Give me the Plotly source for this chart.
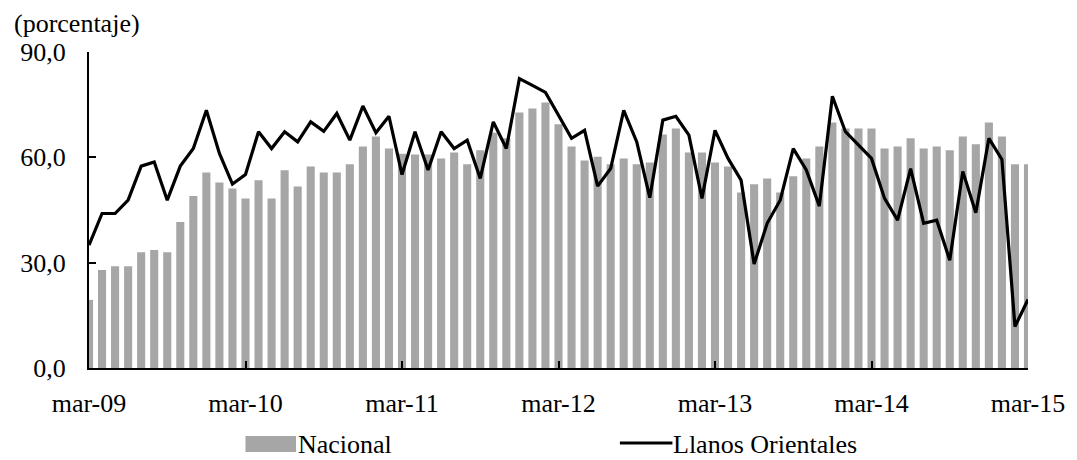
import plotly.graph_objects as go

# meses de mar-09 a mar-15
MESES_ES = ["ene", "feb", "mar", "abr", "may", "jun",
            "jul", "ago", "sep", "oct", "nov", "dic"]
meses = []
for anio in range(9, 16):
    for m, nombre in enumerate(MESES_ES):
        if (anio == 9 and m < 2) or (anio == 15 and m > 2):
            continue
        meses.append(f"{nombre}-{anio:02d}")

nacional = [
    19.4, 27.9, 29.0, 29.0, 33.0, 33.6, 33.0, 41.6, 49.0, 55.7,
    52.8, 51.1, 48.3, 53.5, 48.3, 56.3, 51.7, 57.4, 55.7, 55.7,
    58.0, 63.1, 65.9, 62.5, 61.0, 60.8, 60.8, 59.7, 61.4, 58.0,
    62.0, 67.0, 65.4, 72.8, 73.9, 75.6, 69.4, 63.1, 59.1, 60.2,
    58.0, 59.7, 58.0, 58.5, 66.5, 68.2, 61.4, 61.4, 58.5, 57.4,
    50.0, 52.3, 54.0, 50.0, 54.6, 59.7, 63.1, 69.9, 68.2, 68.2,
    68.2, 62.5, 63.1, 65.4, 62.5, 63.1, 62.0, 65.9, 63.7, 69.9,
    65.9, 58.0, 58.0,
]

llanos = [
    35.0, 44.0, 44.0, 47.8, 57.5, 58.7, 47.8, 57.5, 62.5, 73.4,
    61.1, 52.4, 55.1, 67.3, 62.5, 67.3, 64.4, 70.1, 67.4, 72.5,
    64.9, 74.6, 67.0, 71.7, 55.1, 67.3, 56.4, 67.3, 62.5, 64.9,
    54.0, 70.1, 62.5, 82.4, 80.5, 78.5, 72.0, 65.4, 67.7, 51.8,
    56.8, 73.4, 64.4, 48.5, 70.6, 71.7, 66.3, 48.3, 67.7, 59.7,
    53.5, 29.6, 41.2, 47.8, 62.5, 56.4, 46.1, 77.4, 67.3, 63.5,
    59.7, 48.3, 42.1, 56.8, 41.2, 42.1, 30.7, 56.0, 44.2, 65.4,
    59.4, 11.8, 19.5,
]

x_ticks = ["mar-09", "mar-10", "mar-11", "mar-12", "mar-13", "mar-14", "mar-15"]
y_ticks = [0, 30, 60, 90]
y_labels = ["0,0", "30,0", "60,0", "90,0"]

GRIS = "#a6a6a6"
FUENTE = "Liberation Serif, Times New Roman, serif"
TAM = 26
texto = dict(family=FUENTE, size=TAM, color="black")

fig = go.Figure()
fig.add_trace(go.Bar(x=meses, y=nacional, name="Nacional",
                     marker=dict(color=GRIS, line=dict(width=0))))
fig.add_trace(go.Scatter(x=meses, y=llanos, name="Llanos Orientales",
                         mode="lines", line=dict(color="black", width=3.2)))

# la pagina deja 8 px de margen en el body
OFF = 8
W, H = 1077 - OFF, 460 - OFF
L, R, T, B = 88 - OFF, 41, 52 - OFF, 92
pw, ph = W - L - R, H - T - B


def px_x(p):
    return (p - OFF - L) / pw


def px_y(p):
    return (H - B - (p - OFF)) / ph


fig.update_layout(
    width=W, height=H,
    margin=dict(l=L, r=R, t=T, b=B),
    paper_bgcolor="white", plot_bgcolor="white",
    bargap=0.38,
    showlegend=False,
    font=texto,
)

fig.update_xaxes(
    type="category", range=[0, len(meses) - 1],
    tickvals=x_ticks, ticktext=x_ticks, tickfont=texto,
    ticks="inside", ticklen=7, tickwidth=2, tickcolor="black",
    showline=True, linecolor="black", linewidth=2,
    showgrid=False, zeroline=False, ticklabelstandoff=11,
)
fig.update_yaxes(
    range=[0, 90], tickvals=y_ticks, ticktext=y_labels, tickfont=texto,
    ticks="inside", ticklen=7, tickwidth=2, tickcolor="black",
    showline=True, linecolor="black", linewidth=2,
    showgrid=False, zeroline=False, ticklabelstandoff=16,
)

# leyenda dibujada a mano
fig.add_shape(type="rect", xref="paper", yref="paper",
              x0=px_x(246), x1=px_x(297), y0=px_y(452), y1=px_y(436),
              fillcolor=GRIS, line=dict(width=0))
fig.add_shape(type="line", xref="paper", yref="paper",
              x0=px_x(624), x1=px_x(677), y0=px_y(443), y1=px_y(443),
              line=dict(color="black", width=3.2))
for nombre, x_txt in [("Nacional", 298), ("Llanos Orientales", 677)]:
    fig.add_annotation(text=nombre, xref="paper", yref="paper",
                       x=px_x(x_txt), y=px_y(444), xanchor="left",
                       yanchor="middle", borderpad=0,
                       showarrow=False, font=texto)
fig.add_annotation(text="(porcentaje)", xref="paper", yref="paper",
                   x=px_x(11), y=px_y(24), xanchor="left", yanchor="middle",
                   borderpad=0, showarrow=False, font=texto)

fig.write_html("out.html")
